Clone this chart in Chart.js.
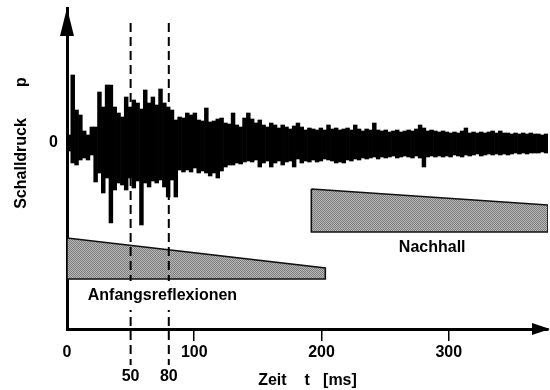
<!DOCTYPE html>
<html lang="de">
<head>
  <meta charset="UTF-8">
  <title>Schalldruck über Zeit</title>
  <script src="https://cdn.jsdelivr.net/npm/chart.js"></script>
  <style>
    html, body { margin: 0; padding: 0; background: #fff; }
    #wrap { width: 550px; height: 390px; position: relative; }
  </style>
</head>
<body>
  <div id="wrap"><canvas id="chart"></canvas></div>

  <script>
    // Zeitachse in ms, Schalldruck in relativen Einheiten (0 = Ruhedruck)
    const xTicks = [0, 100, 200, 300];
    const markTimes = [50, 80];
    const waveStep = 3; // ms je Abschnitt der Hüllkurve

    // obere und untere Spitzenwerte je 3-ms-Abschnitt
    const waveHigh = [
      8, 68, 33, 28, 12, 8, 16, 16, 51, 36, 58, 58, 36, 30, 26, 46, 36, 43, 40, 34,
      53, 40, 46, 38, 54, 40, 36, 33, 23, 26, 25, 30, 28, 30, 23, 22, 35, 21, 22, 24,
      25, 20, 19, 30, 18, 16, 25, 30, 24, 20, 23, 18, 16, 20, 18, 15, 18, 16, 14, 17,
      20, 16, 13, 15, 14, 13, 15, 13, 18, 14, 15, 13, 14, 15, 13, 18, 14, 12, 14, 13,
      20, 13, 12, 13, 11, 12, 13, 11, 12, 13, 12, 14, 18, 15, 12, 13, 12, 11, 12, 11,
      10, 11, 10, 12, 15, 10, 11, 10, 11, 10, 11, 12, 10, 12, 10, 10, 9, 10, 9, 10,
      9, 10, 9, 9, 8, 9, 8
    ];
    const waveLow = [
      -8, -20, -22, -17, -15, -17, -12, -39, -30, -50, -35, -80, -47, -40, -42, -47, -35, -45, -38, -82,
      -40, -44, -38, -40, -37, -44, -54, -37, -54, -27, -29, -27, -29, -25, -30, -28, -30, -33, -30, -35,
      -28, -24, -22, -22, -20, -21, -19, -18, -19, -17, -24, -20, -18, -24, -20, -18, -22, -19, -18, -24,
      -16, -20, -18, -19, -17, -19, -18, -16, -17, -18, -20, -19, -20, -17, -18, -16, -17, -15, -16, -15,
      -14, -16, -14, -15, -14, -13, -15, -14, -13, -14, -15, -13, -15, -24, -14, -13, -14, -13, -14, -13,
      -14, -12, -13, -14, -12, -13, -12, -11, -13, -12, -11, -12, -11, -12, -11, -12, -11, -10, -11, -10,
      -11, -10, -10, -10, -9, -10, -9
    ];

    // Keile: Anfangsreflexionen und Nachhall
    const earlyT = [0, 203];
    const earlyTop = [-95, -125];
    const earlyBottom = -136;
    const lateT = [192, 378];
    const lateTop = [-46, -62];
    const lateBottom = -89;

    const FONT = '"Liberation Sans", Arial, Helvetica, sans-serif';

    function stipple() {
      const c = document.createElement('canvas');
      c.width = 2; c.height = 2;
      const g = c.getContext('2d');
      g.fillStyle = '#b8b8b8';
      g.fillRect(0, 0, 2, 2);
      g.fillStyle = '#7c7c7c';
      g.fillRect(0, 0, 1, 1);
      g.fillRect(1, 1, 1, 1);
      return g.createPattern(c, 'repeat');
    }
    const grey = stipple();

    // jeder Abschnitt als schwebender Balken von unterer bis oberer Spitze
    const waveBars = waveHigh.map((hi, i) => ({ x: i * waveStep + waveStep / 2, y: [waveLow[i], hi] }));

    function wedge(ts, tops, bottom) {
      return [
        { x: ts[0], y: tops[0] },
        { x: ts[1], y: tops[1] },
        { x: ts[1], y: bottom },
        { x: ts[0], y: bottom },
        { x: ts[0], y: tops[0] }
      ];
    }

    function dashLine(t) {
      return {
        data: [{ x: t, y: 120 }, { x: t, y: -222 }],
        borderColor: '#000',
        borderWidth: 2,
        borderDash: [9, 5],
        pointRadius: 0,
        clip: false
      };
    }

    const extras = {
      id: 'extras',
      afterDraw(chart) {
        const { ctx, chartArea: a, scales: { x, y } } = chart;
        ctx.save();
        ctx.fillStyle = '#000';

        // Pfeilspitzen
        ctx.beginPath();
        ctx.moveTo(a.left, a.top);
        ctx.lineTo(a.left - 7, a.top + 28);
        ctx.lineTo(a.left + 7, a.top + 28);
        ctx.closePath();
        ctx.fill();
        ctx.beginPath();
        ctx.moveTo(a.right + 2, a.bottom);
        ctx.lineTo(a.right - 16, a.bottom - 6);
        ctx.lineTo(a.right - 16, a.bottom + 6);
        ctx.closePath();
        ctx.fill();

        ctx.font = 'bold 16px ' + FONT;
        ctx.textAlign = 'center';
        ctx.textBaseline = 'middle';

        // Marken 50 / 80
        markTimes.forEach(t => ctx.fillText(String(t), x.getPixelForValue(t), a.bottom + 48));

        // Beschriftung der Keile
        const ex = x.getPixelForValue(75), ey = y.getPixelForValue(-153);
        ctx.fillStyle = '#fff';
        ctx.fillRect(ex - 82, y.getPixelForValue(earlyBottom) + 2, 164, 29);
        ctx.fillStyle = '#000';
        ctx.fillText('Anfangsreflexionen', ex, ey);
        ctx.fillText('Nachhall', x.getPixelForValue(287), y.getPixelForValue(-105));

        // y-Achsentitel
        ctx.translate(22, y.getPixelForValue(0));
        ctx.rotate(-Math.PI / 2);
        ctx.fillText('Schalldruck       p', 0, 0);
        ctx.restore();
      }
    };

    new Chart(document.getElementById('chart'), {
      type: 'line',
      data: {
        datasets: [
          dashLine(markTimes[0]),
          dashLine(markTimes[1]),
          {
            type: 'bar',
            data: waveBars,
            backgroundColor: '#000',
            borderWidth: 0,
            barPercentage: 1,
            categoryPercentage: 1
          },
          {
            data: wedge(earlyT, earlyTop, earlyBottom),
            borderColor: '#111',
            borderWidth: 1.6,
            backgroundColor: grey,
            fill: 'shape',
            pointRadius: 0
          },
          {
            data: wedge(lateT, lateTop, lateBottom),
            borderColor: '#111',
            borderWidth: 1.6,
            backgroundColor: grey,
            fill: 'shape',
            pointRadius: 0
          }
        ]
      },
      options: {
        responsive: true,
        maintainAspectRatio: false,
        animation: false,
        layout: { padding: { top: 8, right: 2, left: 0, bottom: 0 } },
        plugins: {
          legend: { display: false },
          tooltip: { enabled: false }
        },
        scales: {
          x: {
            type: 'linear',
            min: 0,
            max: 378,
            offset: false,
            afterFit: s => { s.height = 61; s.paddingLeft = 0; s.paddingRight = 0; },
            afterBuildTicks: s => { s.ticks = xTicks.map(v => ({ value: v })); },
            border: { display: true, color: '#000', width: 3 },
            grid: {
              offset: false,
              drawOnChartArea: false,
              drawTicks: true,
              tickLength: 12,
              lineWidth: 1.5,
              color: c => (c.tick && c.tick.value === 0 ? 'rgba(0,0,0,0)' : '#000')
            },
            ticks: {
              autoSkip: false,
              maxRotation: 0,
              padding: 2,
              color: '#000',
              font: { family: FONT, size: 16, weight: 'bold' }
            },
            title: {
              display: true,
              text: 'Zeit    t   [ms]',
              color: '#000',
              padding: 0,
              font: { family: FONT, size: 16, weight: 'bold' }
            }
          },
          y: {
            type: 'linear',
            min: -186,
            max: 135,
            afterFit: s => { s.width = 67; s.paddingTop = 0; s.paddingBottom = 0; },
            afterBuildTicks: s => { s.ticks = [{ value: 0 }]; },
            border: { display: true, color: '#000', width: 3 },
            grid: { display: false, drawTicks: false },
            ticks: {
              padding: 9,
              color: '#000',
              font: { family: FONT, size: 16, weight: 'bold' }
            }
          }
        }
      },
      plugins: [extras]
    });
  </script>
</body>
</html>
